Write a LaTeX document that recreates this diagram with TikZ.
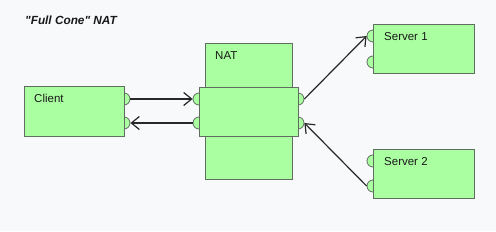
\documentclass[tikz,border=0pt]{standalone}
\usepackage{fontspec}
\setmainfont{Liberation Sans}
\usetikzlibrary{arrows.meta}
\definecolor{bgc}{RGB}{248,249,251}
\definecolor{boxfill}{RGB}{170,255,160}
\definecolor{boxline}{RGB}{95,110,95}
\definecolor{wirec}{RGB}{40,40,40}
\definecolor{txt}{RGB}{25,25,25}
\begin{document}
\begin{tikzpicture}[x=1pt,y=-1pt,
  box/.style={draw=boxline, fill=boxfill, line width=0.8pt, inner sep=0pt, anchor=north west},
  port/.style={circle, draw=boxline, fill=boxfill, line width=0.8pt, inner sep=0pt, minimum size=12pt},
  lbl/.style={font=\fontsize{11.5}{13}\selectfont, anchor=base west, text=txt, inner sep=0pt},
  wire/.style={draw=wirec, line width=1.2pt, -{Straight Barb[length=8pt,width=13pt,line width=1.2pt]}}]
\fill[bgc] (0,0) rectangle (496,231);
\useasboundingbox (0,0) rectangle (496,231);
% title
\node[lbl, font=\fontsize{11.8}{13}\selectfont\bfseries\itshape] (title) at (25,24) {\textquotedbl Full Cone\textquotedbl\ NAT};
% ports (drawn first, boxes cover half)
\node[port] (cp1) at (124,99) {};
\node[port] (cp2) at (124,123) {};
\node[port] (nl1) at (199,99) {};
\node[port] (nl2) at (199,123) {};
\node[port] (nr1) at (298,99) {};
\node[port] (nr2) at (298,123) {};
\node[port] (s1p1) at (373,36) {};
\node[port] (s1p2) at (373,62) {};
\node[port] (s2p1) at (373,161) {};
\node[port] (s2p2) at (373,186) {};
% boxes
\node[box, minimum width=100pt, minimum height=50pt] (client) at (24,86) {};
\node[box, minimum width=87pt, minimum height=136pt] (nat) at (205,43) {};
\node[box, minimum width=99pt, minimum height=49pt] (natmid) at (199,87) {};
\node[box, minimum width=101pt, minimum height=49pt] (server1) at (373,24) {};
\node[box, minimum width=101pt, minimum height=49pt] (server2) at (373,149) {};
% labels
\node[lbl] (clientlbl) at (34,102) {Client};
\node[lbl] (natlbl) at (215,59) {NAT};
\node[lbl] (s1lbl) at (384,40) {Server 1};
\node[lbl] (s2lbl) at (384,165) {Server 2};
% connectors
\draw[wire] (cp1.east) -- (nl1.west);
\draw[wire] (nl2.west) -- (cp2.east);
\draw[wire] (nr1.east) -- (s1p1.west);
\draw[wire] (s2p2.west) -- (nr2.east);
\end{tikzpicture}
\end{document}
